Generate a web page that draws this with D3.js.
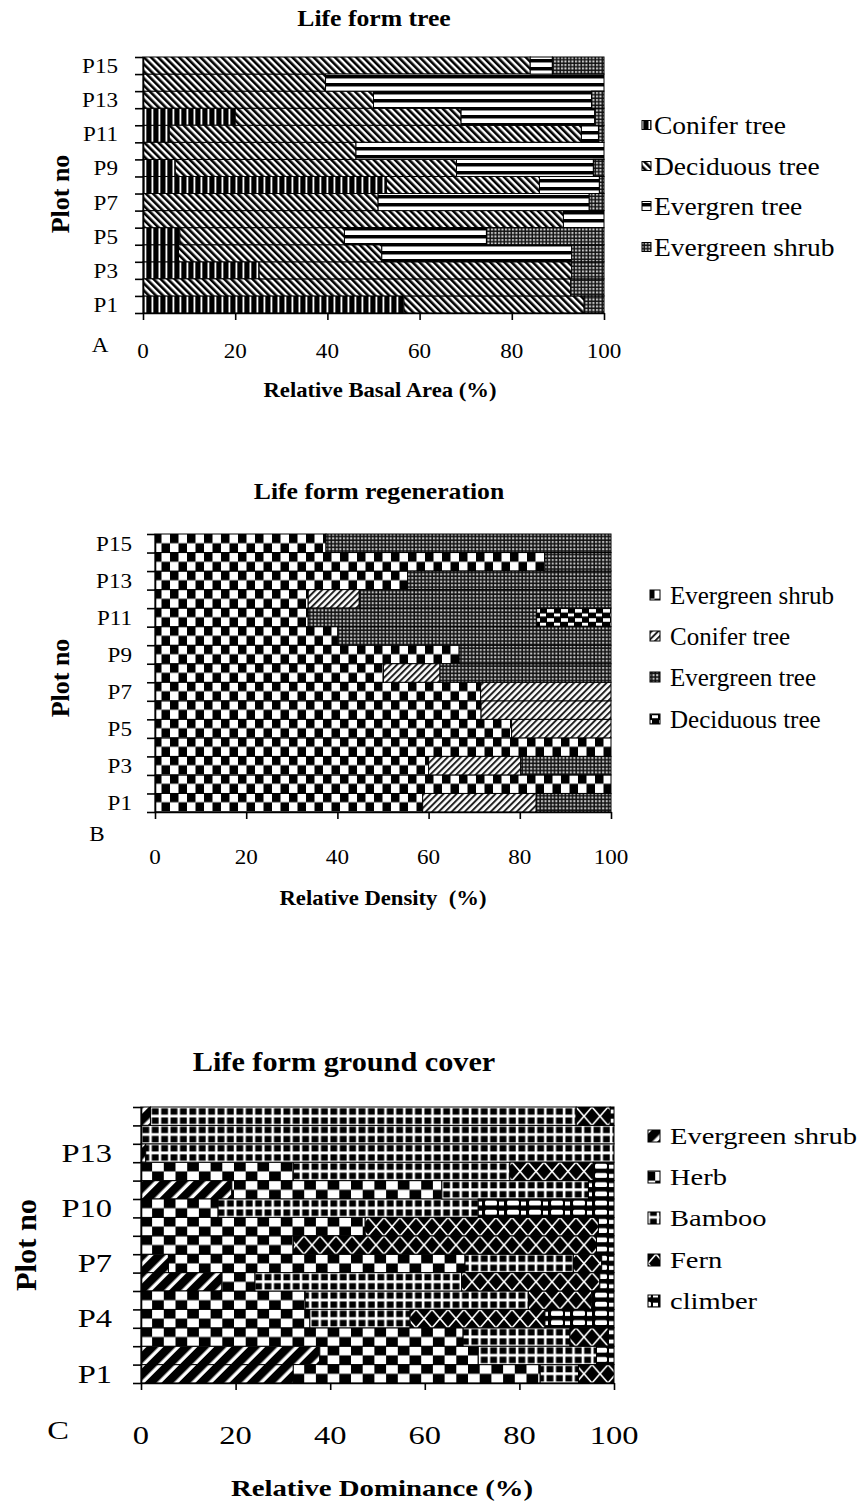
<!DOCTYPE html>
<html>
<head>
<meta charset="utf-8">
<script src="https://cdn.jsdelivr.net/npm/d3@7"></script>
<style>
  body { margin: 0; background: #fff; }
  svg text { font-family: 'Liberation Serif', 'Times New Roman', serif; fill: #000; white-space: pre; }
</style>
</head>
<body>
<div id="chart"></div>
<script>
// plots, bottom (P1) to top (P15)
const plots = ['P1', 'P2', 'P3', 'P4', 'P5', 'P6', 'P7', 'P8', 'P9', 'P10', 'P11', 'P12', 'P13', 'P14', 'P15'];
const xTicks = [0, 20, 40, 60, 80, 100];

// A - life form tree, relative basal area (%)
const seriesA = ['Conifer tree', 'Deciduous tree', 'Evergren tree', 'Evergreen shrub'];
const coniferA = [56.6, 0, 25.2, 7.7, 8, 0, 0, 52.8, 7, 0, 5.7, 20, 0, 0, 0];
const deciduousA = [39.1, 92.8, 67.8, 44.1, 35.7, 91.2, 51, 33.2, 61, 46.2, 89.4, 49, 50, 39.6, 84];
const evergreenTreeA = [0, 0, 0, 41.2, 30.8, 8.8, 45.8, 13, 29.7, 53.8, 3.7, 29, 47.3, 60.4, 4.8];
const evergreenShrubA = [4.3, 7.2, 7, 7, 25.5, 0, 3.2, 1, 2.3, 0, 1.2, 2, 2.7, 0, 11.2];
const labelsA = ['P1', 'P3', 'P5', 'P7', 'P9', 'P11', 'P13', 'P15'];

// B - life form regeneration, relative density (%)
const seriesB = ['Evergreen shrub', 'Conifer tree', 'Evergreen tree', 'Deciduous tree'];
const evergreenShrubB = [58.7, 100, 60, 100, 78.2, 71.5, 71.4, 50.1, 66.7, 40.1, 33.6, 33.6, 55.4, 85.5, 37.5];
const coniferB = [24.9, 0, 20.2, 0, 21.8, 28.5, 28.6, 12.4, 0, 0, 0, 11.2, 0, 0, 0];
const evergreenTreeB = [16.4, 0, 19.8, 0, 0, 0, 0, 37.5, 33.3, 59.9, 50.1, 55.2, 44.6, 14.5, 62.5];
const deciduousB = [0, 0, 0, 0, 0, 0, 0, 0, 0, 0, 16.3, 0, 0, 0, 0];
const labelsB = ['P1', 'P3', 'P5', 'P7', 'P9', 'P11', 'P13', 'P15'];

// C - life form ground cover, relative dominance (%)
const seriesC = ['Evergreen shrub', 'Herb', 'Bamboo', 'Fern', 'climber'];
const evergreenShrubC = [32.2, 37.8, 0, 0, 0, 17.1, 5.8, 0, 0, 0, 19.2, 0, 1, 0, 2];
const herbC = [52.2, 33.5, 68.1, 35.7, 34.7, 7, 62.7, 32.2, 47.4, 16.3, 44.4, 32.2, 0, 0, 0];
const bambooC = [8.1, 25, 22.6, 21.2, 47.2, 43.7, 22.9, 0, 0, 55, 31, 45.8, 99, 100, 90];
const fernC = [7.5, 0, 8.1, 28.5, 13.4, 29.2, 6, 64.1, 49.3, 0, 0, 17.6, 0, 0, 7.2];
const climberC = [0, 3.7, 1.2, 14.6, 4.7, 3, 2.6, 3.7, 3.3, 28.7, 5.4, 4.4, 0, 0, 0.8];
const labelsC = ['P1', 'P4', 'P7', 'P10', 'P13'];

const svg = d3.select('#chart').append('svg').attr('width', 865).attr('height', 1504);
const defs = svg.append('defs');

function addPattern(id, w, h, draw, opts = {}) {
  const p = defs.append('pattern')
    .attr('id', id)
    .attr('patternUnits', 'userSpaceOnUse')
    .attr('width', w)
    .attr('height', h);
  if (opts.y != null) p.attr('y', opts.y);
  if (opts.transform) p.attr('patternTransform', opts.transform);
  p.append('rect').attr('width', w).attr('height', h).attr('fill', opts.bg || '#fff');
  draw(p);
}

/**
 * Patterns (black & white fills like the original)
 */
// A
addPattern('pA1', 7, 8, (p) => {
  p.append('rect').attr('x', 0).attr('width', 4.5).attr('height', 8).attr('fill', '#000');
  p.append('rect').attr('x', 6).attr('width', 1).attr('height', 8).attr('fill', '#555');
});
addPattern('pA2', 5, 5, (p) => {
  p.append('rect').attr('width', 2.6).attr('height', 5).attr('fill', '#000');
}, { transform: 'rotate(-45)' });
addPattern('pA3', 8, 8, (p) => {
  p.append('rect').attr('y', 2).attr('width', 8).attr('height', 3).attr('fill', '#000');
  p.append('rect').attr('y', 5).attr('width', 8).attr('height', 1).attr('fill', '#888');
}, { y: 57 });
addPattern('pA4', 3.5, 3.5, (p) => {
  p.append('rect').attr('width', 3.5).attr('height', 3.5).attr('fill', '#111');
  p.append('rect').attr('x', 1).attr('y', 1).attr('width', 2).attr('height', 2).attr('fill', '#ddd');
});

// B
addPattern('pB1', 17, 18.5, (p) => {
  p.append('rect').attr('width', 8.5).attr('height', 9.25).attr('fill', '#000');
  p.append('rect').attr('x', 8.5).attr('y', 9.25).attr('width', 8.5).attr('height', 9.25).attr('fill', '#000');
}, { y: 534 });
addPattern('pB2', 4.6, 4.6, (p) => {
  p.append('rect').attr('width', 2).attr('height', 4.6).attr('fill', '#222');
}, { transform: 'rotate(45)' });
addPattern('pB3', 3.6, 3.6, (p) => {
  p.append('rect').attr('width', 3.6).attr('height', 3.6).attr('fill', '#111');
  p.append('rect').attr('x', 1).attr('y', 1).attr('width', 2).attr('height', 2).attr('fill', '#ccc');
});
addPattern('pB4', 14, 9.25, (p) => {
  p.append('rect').attr('width', 14).attr('height', 9.25).attr('fill', '#000');
  p.append('rect').attr('x', 1).attr('y', 1).attr('width', 7).attr('height', 3.5).attr('fill', '#fff');
  p.append('rect').attr('x', 8).attr('y', 5.5).attr('width', 6).attr('height', 3).attr('fill', '#fff');
}, { y: 534 });

// C
addPattern('pC1', 12, 12, (p) => {
  p.append('rect').attr('width', 8.5).attr('height', 12).attr('fill', '#000');
}, { transform: 'rotate(45)' });
addPattern('pC2', 23.4, 18.4, (p) => {
  p.append('rect').attr('width', 11.7).attr('height', 9.2).attr('fill', '#000');
  p.append('rect').attr('x', 11.7).attr('y', 9.2).attr('width', 11.7).attr('height', 9.2).attr('fill', '#000');
}, { y: 1107 });
addPattern('pC3', 9.4, 9.2, (p) => {
  p.append('rect').attr('x', 1.4).attr('y', 1.3).attr('width', 6.8).attr('height', 6.4).attr('fill', '#000');
}, { y: 1107 });
addPattern('pC4', 16, 18.4, (p) => {
  p.append('rect').attr('width', 16).attr('height', 18.4).attr('fill', '#000');
  p.append('path').attr('d', 'M0,0L16,18.4M16,0L0,18.4').attr('stroke', '#fff').attr('stroke-width', 1.6);
}, { y: 1107 });
addPattern('pC5', 22, 9.2, (p) => {
  p.append('rect').attr('width', 22).attr('height', 9.2).attr('fill', '#000');
  p.append('rect').attr('x', 1).attr('y', 1.5).attr('width', 12).attr('height', 5).attr('rx', 1.5).attr('fill', '#fff');
  p.append('rect').attr('x', 15).attr('y', 2.5).attr('width', 5).attr('height', 4).attr('fill', '#fff');
}, { y: 1107 });

// text with horizontal stretch (the source image is a bit wider than tall)
function label(g, s, x, y, o) {
  g.append('g')
    .attr('transform', `translate(${x},${y}) rotate(${o.rot || 0}) scale(${o.sx || 1},1)`)
    .append('text')
    .text(s)
    .attr('text-anchor', o.anchor || 'middle')
    .attr('dy', '0.34em')
    .style('font-size', `${o.size}px`)
    .style('font-weight', o.bold ? 'bold' : 'normal');
}

const drawPanel = (cfg) => {
  const g = svg.append('g');
  const x = d3.scaleLinear().domain([0, 100]).range([cfg.x0, cfg.x1]);
  const y = d3.scaleBand().domain(plots).range([cfg.y1, cfg.y0]).padding(0);
  const yIdx = d3.scaleLinear().domain([0, plots.length]).range([cfg.y1, cfg.y0]);

  const rows = plots.map((p, i) => {
    const r = { plot: p };
    cfg.series.forEach((s, j) => { r[s] = cfg.values[j][i]; });
    return r;
  });
  const stacked = d3.stack().keys(cfg.series)(rows);

  g.selectAll('g.layer')
    .data(stacked)
    .join('g')
    .attr('class', 'layer')
    .attr('fill', (d, i) => `url(#${cfg.patterns[i]})`)
    .selectAll('rect')
    .data((d) => d.filter((e) => e[1] - e[0] > 0))
    .join('rect')
    .attr('x', (d) => x(d[0]))
    .attr('width', (d) => x(d[1]) - x(d[0]))
    .attr('y', (d) => y(d.data.plot))
    .attr('height', y.bandwidth())
    .attr('stroke', '#000')
    .attr('stroke-width', 1);

  // axes
  const ya = g.append('g')
    .attr('transform', `translate(${cfg.x0},0)`)
    .call(d3.axisLeft(yIdx).tickValues(d3.range(0, plots.length + 1)).tickFormat('').tickSize(8).tickSizeOuter(0));
  const xa = g.append('g')
    .attr('transform', `translate(0,${cfg.y1})`)
    .call(d3.axisBottom(x).tickValues(xTicks).tickFormat('').tickSize(7).tickSizeOuter(0));
  [ya, xa].forEach((a) => {
    a.selectAll('path, line').attr('stroke', '#000').attr('stroke-width', 1.6);
  });

  cfg.labels.forEach((p) => {
    label(g, p, cfg.labelRight, y(p) + y.bandwidth() / 2, { size: cfg.tickSize, sx: cfg.sx, anchor: 'end' });
  });
  xTicks.forEach((t) => {
    label(g, t, x(t), cfg.xLabelY, { size: cfg.tickSize, sx: cfg.sx });
  });

  label(g, cfg.letter, cfg.letterPos[0], cfg.letterPos[1], { size: cfg.tickSize, sx: cfg.sx });
  label(g, 'Plot no', cfg.plotNo[0], cfg.plotNo[1], { size: cfg.plotNoSize, bold: true, rot: -90, sx: cfg.plotNoSx });
  label(g, cfg.title, cfg.titlePos[0], cfg.titlePos[1], { size: cfg.titleSize, bold: true, sx: cfg.titleSx });
  label(g, cfg.xTitle, cfg.xTitlePos[0], cfg.xTitlePos[1], { size: cfg.xTitleSize, bold: true, sx: cfg.xTitleSx });

  // legend
  const lg = g.append('g');
  cfg.series.forEach((s, i) => {
    const ly = cfg.legend.ys[i];
    lg.append('rect')
      .attr('x', cfg.legend.iconX)
      .attr('y', ly - cfg.legend.icon / 2)
      .attr('width', cfg.legend.icon)
      .attr('height', cfg.legend.icon)
      .attr('fill', `url(#${cfg.patterns[i]})`)
      .attr('stroke', '#000')
      .attr('stroke-width', 1);
    label(lg, s, cfg.legend.textX, ly, { size: cfg.legend.size, sx: cfg.legend.sx, anchor: 'start' });
  });
};

drawPanel({
  series: seriesA,
  values: [coniferA, deciduousA, evergreenTreeA, evergreenShrubA],
  patterns: ['pA1', 'pA2', 'pA3', 'pA4'],
  labels: labelsA,
  x0: 143, x1: 604, y0: 57, y1: 313,
  labelRight: 118, xLabelY: 351, tickSize: 22, sx: 1.05,
  letter: 'A', letterPos: [100, 345],
  plotNo: [60, 194], plotNoSize: 26, plotNoSx: 1,
  title: 'Life form tree', titlePos: [374, 18], titleSize: 24, titleSx: 1.07,
  xTitle: 'Relative Basal Area (%)', xTitlePos: [380, 390], xTitleSize: 22, xTitleSx: 1.03,
  legend: { iconX: 642, textX: 654, icon: 9, ys: [125, 166, 206, 247], size: 25, sx: 1.1 },
});

drawPanel({
  series: seriesB,
  values: [evergreenShrubB, coniferB, evergreenTreeB, deciduousB],
  patterns: ['pB1', 'pB2', 'pB3', 'pB4'],
  labels: labelsB,
  x0: 155, x1: 611, y0: 534, y1: 812,
  labelRight: 132, xLabelY: 857, tickSize: 22, sx: 1.05,
  letter: 'B', letterPos: [97, 834],
  plotNo: [60, 678], plotNoSize: 26, plotNoSx: 1,
  title: 'Life form regeneration', titlePos: [379, 491], titleSize: 24, titleSx: 1.07,
  xTitle: 'Relative Density  (%)', xTitlePos: [383, 898], xTitleSize: 22, xTitleSx: 1.03,
  legend: { iconX: 650, textX: 670, icon: 10, ys: [595, 636, 677, 719], size: 25, sx: 1.0 },
});

drawPanel({
  series: seriesC,
  values: [evergreenShrubC, herbC, bambooC, fernC, climberC],
  patterns: ['pC1', 'pC2', 'pC3', 'pC4', 'pC5'],
  labels: labelsC,
  x0: 141, x1: 614, y0: 1107, y1: 1383,
  labelRight: 112, xLabelY: 1435, tickSize: 26, sx: 1.25,
  letter: 'C', letterPos: [58, 1430],
  plotNo: [26, 1245], plotNoSize: 29, plotNoSx: 1.05,
  title: 'Life form ground cover', titlePos: [344, 1061], titleSize: 28, titleSx: 1.08,
  xTitle: 'Relative Dominance (%)', xTitlePos: [382, 1488], xTitleSize: 24, xTitleSx: 1.2,
  legend: { iconX: 648, textX: 670, icon: 12, ys: [1136, 1177, 1218, 1260, 1301], size: 23, sx: 1.24 },
});
</script>
</body>
</html>
